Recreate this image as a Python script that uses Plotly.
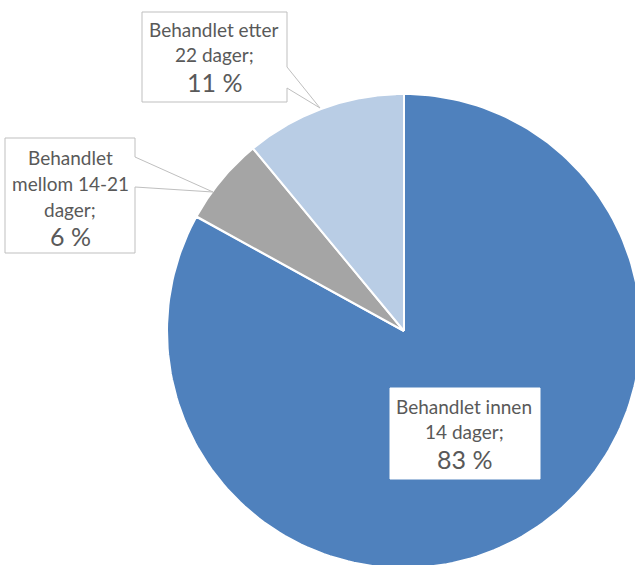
import numpy as np
import plotly.graph_objects as go

# Data
categories = ["Behandlet innen 14 dager", "Behandlet mellom 14-21 dager", "Behandlet etter 22 dager"]
label_lines = [["Behandlet innen", "14 dager;"], ["Behandlet", "mellom 14-21", "dager;"], ["Behandlet etter", "22 dager;"]]
values = [83, 6, 11]
colors = ["#4F81BD", "#A5A5A5", "#B9CDE5"]

W, H = 635, 565
cx, cy, r = 404, 331, 237

fig = go.Figure()
total = sum(values)
start = 0.0
for cat, v, col in zip(categories, values, colors):
    a0 = start / total * 2 * np.pi
    a1 = (start + v) / total * 2 * np.pi
    t = np.linspace(a0, a1, 200)
    xs = np.concatenate([[cx], cx + r * np.sin(t), [cx]])
    ys = np.concatenate([[cy], cy - r * np.cos(t), [cy]])
    fig.add_trace(go.Scatter(x=xs, y=ys, fill="toself", fillcolor=col, mode="lines",
                             line=dict(color="white", width=2), name=cat, hoverinfo="name",
                             showlegend=False))
    start += v

txt_color = "#595959"
font = "Lato, 'Open Sans', sans-serif"

# Callout boxes (speech bubbles)
box_line = dict(color="#BFBFBF", width=1)
fig.add_shape(type="path",
              path="M 142 12 L 287 12 L 287 67 L 320 108 L 287 88 L 287 102 L 142 102 Z",
              line=box_line, fillcolor="white", layer="above")
fig.add_shape(type="path",
              path="M 5 138 L 135 138 L 135 157 L 213 192 L 135 187 L 135 253 L 5 253 Z",
              line=box_line, fillcolor="white", layer="above")
fig.add_shape(type="rect", x0=390, x1=540, y0=388, y1=479,
              line=dict(color="white", width=1), fillcolor="white", layer="above")

def lines_ann(x, ys, texts, pct, pct_y):
    for yy, tx in zip(ys, texts):
        fig.add_annotation(x=x, y=yy, text=tx, showarrow=False,
                           font=dict(family=font, size=19, color=txt_color),
                           xanchor="center", yanchor="middle")
    fig.add_annotation(x=x, y=pct_y, text=pct, showarrow=False,
                       font=dict(family=font, size=25, color=txt_color),
                       xanchor="center", yanchor="middle")

pcts = [f"{v} %" for v in values]
lines_ann(464, [406, 431], label_lines[0], pcts[0], 459)
lines_ann(70, [157, 183, 209], label_lines[1], pcts[1], 236)
lines_ann(214, [29, 54], label_lines[2], pcts[2], 82)

fig.update_xaxes(range=[0, W], visible=False, fixedrange=True)
fig.update_yaxes(range=[H, 0], visible=False, fixedrange=True)
fig.update_layout(width=W, height=H, margin=dict(l=0, r=0, t=0, b=0),
                  plot_bgcolor="white", paper_bgcolor="white", showlegend=False)

fig.write_html("out.html", config={"displayModeBar": False},
               post_script="document.body.style.margin='0';document.body.style.overflow='hidden';")
